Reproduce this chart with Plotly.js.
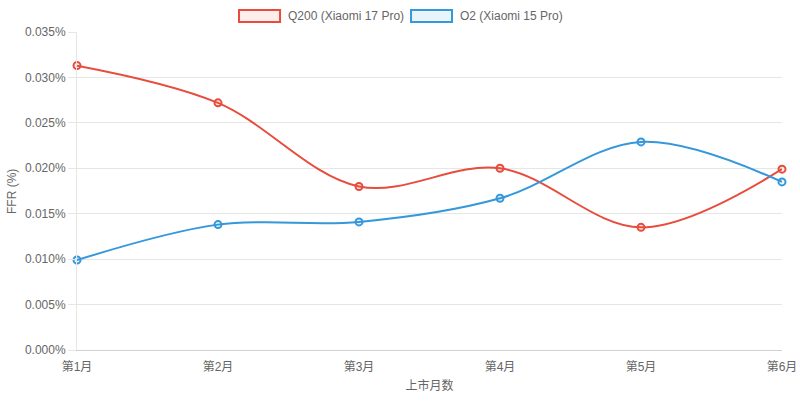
<!DOCTYPE html>
<html>
<head>
<meta charset="utf-8">
<script src="https://cdn.plot.ly/plotly-3.0.1.min.js"></script>
<style>
  html, body { margin: 0; padding: 0; background: #fff; }
  #chart { width: 800px; height: 401px; }
</style>
</head>
<body>
<div id="chart"></div>
<script>
var months = ["第1月", "第2月", "第3月", "第4月", "第5月", "第6月"];
var seriesNames = ["Q200 (Xiaomi 17 Pro)", "O2 (Xiaomi 15 Pro)"];
var q200 = [0.0313, 0.0272, 0.0180, 0.0200, 0.0135, 0.0199];
var o2 = [0.0099, 0.0138, 0.0141, 0.0167, 0.0229, 0.0185];
var yTicks = [0, 0.005, 0.010, 0.015, 0.020, 0.025, 0.030, 0.035];
var yTickText = yTicks.map(function (v) { return v.toFixed(3) + "%"; });

var fontFam = "Liberation Sans, Arial, Noto Sans CJK SC, sans-serif";
var red = "#e74c3c", blue = "#3498db";
var redFill = "rgba(231,76,60,0.1)", blueFill = "rgba(52,152,219,0.1)";

function line(name, ys, col, fill) {
  return {
    type: "scatter",
    mode: "lines+markers",
    name: name,
    x: months,
    y: ys,
    cliponaxis: false,
    line: { color: col, width: 2, shape: "spline", smoothing: 1 },
    marker: { size: 7, color: fill, line: { color: col, width: 2 } },
    hoverinfo: "x+y"
  };
}

var data = [
  line(seriesNames[0], q200, red, redFill),
  line(seriesNames[1], o2, blue, blueFill)
];

// legend drawn as boxes like the original
var legendShapes = [
  { type: "rect", xref: "paper", yref: "paper", x0: 0.2298, x1: 0.288, y0: 1.0314, y1: 1.069,
    line: { color: red, width: 2 }, fillcolor: redFill },
  { type: "rect", xref: "paper", yref: "paper", x0: 0.4738, x1: 0.5319, y0: 1.0314, y1: 1.069,
    line: { color: blue, width: 2 }, fillcolor: blueFill }
];
var notes = [
  { xref: "paper", yref: "paper", x: 0.2965, y: 1.0502, xanchor: "left", yanchor: "middle",
    text: seriesNames[0], showarrow: false, font: { size: 12, color: "#666" } },
  { xref: "paper", yref: "paper", x: 0.5404, y: 1.0502, xanchor: "left", yanchor: "middle",
    text: seriesNames[1], showarrow: false, font: { size: 12, color: "#666" } },
  // y axis title, placed by hand so it sits close to the page edge
  { xref: "paper", yref: "paper", x: -0.0922, y: 0.5, xanchor: "center", yanchor: "middle",
    textangle: -90, text: "FFR (%)", showarrow: false, font: { size: 12, color: "#666" } }
];

var layout = {
  width: 800,
  height: 401,
  margin: { l: 77, r: 18, t: 32, b: 50.5 },
  paper_bgcolor: "#fff",
  plot_bgcolor: "#fff",
  font: { family: fontFam, size: 12, color: "#666" },
  showlegend: false,
  xaxis: {
    type: "category",
    range: [0, 5],
    showgrid: false,
    showline: true,
    linecolor: "#d0d0d0",
    linewidth: 1,
    ticks: "outside",
    ticklen: 6,
    tickcolor: "rgba(0,0,0,0)",
    zeroline: false,
    title: { text: "上市月数", font: { size: 12, color: "#666" }, standoff: 8 }
  },
  yaxis: {
    range: [0, 0.035],
    tickmode: "array",
    tickvals: yTicks,
    ticktext: yTickText,
    showgrid: true,
    gridcolor: "#e6e6e6",
    gridwidth: 1,
    showline: true,
    linecolor: "#e6e6e6",
    ticks: "outside",
    ticklen: 8,
    tickcolor: "#e6e6e6",
    zeroline: false
  },
  shapes: legendShapes,
  annotations: notes
};

Plotly.newPlot("chart", data, layout, { displayModeBar: false, staticPlot: true });
</script>
</body>
</html>
